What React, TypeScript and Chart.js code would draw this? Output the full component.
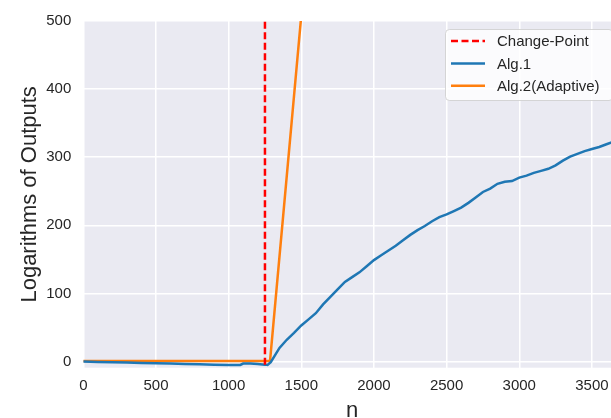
import React, { useEffect, useRef } from "react";
import { Chart, registerables } from "chart.js";

Chart.register(...registerables);

// ---- data ----
const changePoint = 1250;
const changeLineY = [-20, 520];

const alg1N = [0, 100, 200, 300, 400, 500, 600, 700, 800, 900, 1000, 1050, 1080, 1100, 1150, 1200, 1250, 1268, 1290, 1350, 1400, 1450, 1500, 1550, 1600, 1650, 1700, 1750, 1800, 1850, 1900, 1950, 2000, 2050, 2100, 2150, 2200, 2250, 2300, 2350, 2400, 2450, 2500, 2550, 2600, 2650, 2700, 2750, 2800, 2850, 2900, 2950, 3000, 3050, 3100, 3150, 3200, 3250, 3300, 3350, 3400, 3450, 3500, 3550, 3600, 3650, 3700];
const alg1Vals = [0, -0.5, -1, -1.5, -2, -2.5, -3, -3.5, -4, -4.5, -5, -5, -5, -3, -3, -3.5, -4.5, -5, -1, 20, 32, 42, 53, 62, 71, 84, 95, 106, 117, 124, 131, 140, 149, 156, 163, 170, 178, 186, 193, 199, 206, 212, 216, 221, 226, 233, 241, 249, 254, 261, 264, 265, 270, 273, 277, 280, 283, 288, 295, 301, 305, 309, 312, 315, 319, 323, 327];

const alg2N = [0, 1285, 1500];
const alg2Vals = [1, 1, 508];

const xTickValues = [0, 500, 1000, 1500, 2000, 2500, 3000, 3500];
const yTickValues = [0, 100, 200, 300, 400, 500];
const xMin = 0, xMax = 3700;
const yMin = -9, yMax = 500;

const legendLabels = ["Change-Point", "Alg.1", "Alg.2(Adaptive)"];

const FONT = '"Liberation Sans", Arial, sans-serif';
const TEXT = "#262626";

const bgPlugin = {
  id: "bgArea",
  beforeDraw(chart: any) {
    const { ctx, chartArea } = chart;
    ctx.save();
    ctx.fillStyle = "#EAEAF2";
    ctx.fillRect(chartArea.left, chartArea.top, chartArea.right - chartArea.left, chartArea.bottom - chartArea.top);
    ctx.restore();
  },
};

const legendPlugin = {
  id: "boxLegend",
  afterDatasetsDraw(chart: any) {
    const { ctx, chartArea } = chart;
    const x0 = 445.5, y0 = 29.5;
    const w = chartArea.right - 8 - x0, h = 71;
    const r = 4;
    ctx.save();
    ctx.beginPath();
    ctx.moveTo(x0 + r, y0);
    ctx.lineTo(x0 + w - r, y0);
    ctx.arcTo(x0 + w, y0, x0 + w, y0 + r, r);
    ctx.lineTo(x0 + w, y0 + h - r);
    ctx.arcTo(x0 + w, y0 + h, x0 + w - r, y0 + h, r);
    ctx.lineTo(x0 + r, y0 + h);
    ctx.arcTo(x0, y0 + h, x0, y0 + h - r, r);
    ctx.lineTo(x0, y0 + r);
    ctx.arcTo(x0, y0, x0 + r, y0, r);
    ctx.closePath();
    ctx.fillStyle = "rgba(255,255,255,0.8)";
    ctx.fill();
    ctx.strokeStyle = "rgba(204,204,204,0.8)";
    ctx.lineWidth = 1;
    ctx.stroke();
    chart.data.datasets.forEach((ds: any, i: number) => {
      const y = 41 + i * 22.4;
      ctx.beginPath();
      ctx.setLineDash(ds.borderDash || []);
      ctx.strokeStyle = ds.borderColor;
      ctx.lineWidth = ds.borderWidth;
      ctx.moveTo(451, y);
      ctx.lineTo(485, y);
      ctx.stroke();
      ctx.setLineDash([]);
      ctx.fillStyle = TEXT;
      ctx.font = `15px ${FONT}`;
      ctx.textBaseline = "middle";
      ctx.textAlign = "left";
      ctx.fillText(legendLabels[i], 497, y + 1);
    });
    ctx.restore();
  },
};

export default function App() {
  const ref = useRef<HTMLCanvasElement | null>(null);
  useEffect(() => {
    if (!ref.current) return;
    const chart = new Chart(ref.current, {
      type: "line",
      data: {
        datasets: [
          {
            label: legendLabels[0],
            data: changeLineY.map((y) => ({ x: changePoint, y })),
            borderColor: "#ff0000",
            borderWidth: 2.5,
            borderDash: [7, 3.5],
            pointRadius: 0,
            clip: 0,
          },
          {
            label: legendLabels[1],
            data: alg1N.map((n, i) => ({ x: n, y: alg1Vals[i] })),
            borderColor: "#1f77b4",
            borderWidth: 2.5,
            pointRadius: 0,
            clip: 0,
          },
          {
            label: legendLabels[2],
            data: alg2N.map((n, i) => ({ x: n, y: alg2Vals[i] })),
            borderColor: "#ff7f0e",
            borderWidth: 2.5,
            pointRadius: 0,
            clip: 0,
          },
        ] as any,
      },
      options: {
        responsive: false,
        animation: false,
        devicePixelRatio: 1,
        layout: { padding: { top: 21, left: 0, right: 0, bottom: 0 } },
        plugins: { legend: { display: false }, tooltip: { enabled: false } },
        scales: {
          x: {
            type: "linear",
            min: xMin,
            max: xMax,
            afterFit: (s: any) => { s.height = 50.3; },
            afterBuildTicks: (s: any) => { s.ticks = xTickValues.map((v) => ({ value: v })); },
            ticks: { font: { size: 15, family: FONT }, color: TEXT, padding: 9, maxRotation: 0, autoSkip: false, callback: (v: any) => String(v) },
            grid: { color: "#ffffff", lineWidth: 1.5, drawTicks: false },
            border: { display: false },
            title: { display: true, text: "n", color: TEXT, font: { size: 22, family: FONT, lineHeight: 0.6 }, padding: 0 },
          },
          y: {
            type: "linear",
            min: yMin,
            max: yMax,
            afterFit: (s: any) => { s.width = 83.3; },
            afterBuildTicks: (s: any) => { s.ticks = yTickValues.map((v) => ({ value: v })); },
            ticks: { font: { size: 15, family: FONT }, color: TEXT, padding: 12, autoSkip: false, callback: (v: any) => String(v) },
            grid: { color: "#ffffff", lineWidth: 1.5, drawTicks: false },
            border: { display: false },
            title: { display: true, text: "Logarithms of Outputs", color: TEXT, font: { size: 22, family: FONT }, padding: { top: 17, bottom: 0 } },
          },
        },
      } as any,
      plugins: [bgPlugin, legendPlugin],
    });
    return () => chart.destroy();
  }, []);
  return (
    <div style={{ position: "fixed", left: 0, top: 0, width: 611, height: 418, overflow: "hidden", background: "#fff" }}>
      <canvas ref={ref} width={621} height={418} style={{ display: "block" }} />
    </div>
  );
}
